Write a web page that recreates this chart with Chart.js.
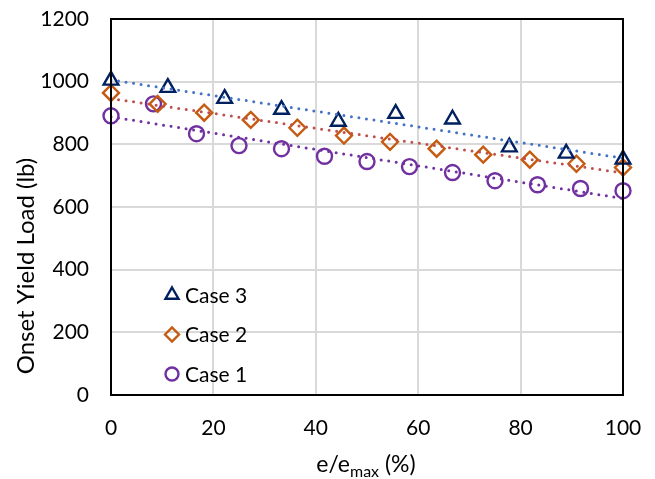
<!DOCTYPE html>
<html>
<head>
<meta charset="utf-8">
<script src="https://cdn.jsdelivr.net/npm/chart.js@4/dist/chart.umd.min.js"></script>
<style>
  html, body { margin: 0; padding: 0; background: #fff; }
  #wrap { width: 655px; height: 479px; }
</style>
</head>
<body>
<div id="wrap"><canvas id="chart" width="655" height="479"></canvas></div>
<script>
// values
const case3X = [0, 11.1, 22.2, 33.3, 44.4, 55.6, 66.7, 77.8, 88.9, 100];
const case3Y = [1004, 981, 946, 911, 873, 898, 880, 791, 771, 752];

const case2X = [0, 9.1, 18.2, 27.3, 36.4, 45.5, 54.5, 63.6, 72.7, 81.8, 90.9, 100];
const case2Y = [964, 929, 901, 878, 853, 828, 808, 786, 767, 751, 738, 726];

const case1X = [0, 8.3, 16.7, 25, 33.3, 41.7, 50, 58.3, 66.7, 75, 83.3, 91.7, 100];
const case1Y = [891, 929, 834, 796, 786, 762, 745, 729, 710, 684, 671, 659, 652];

const xTicks = [0, 20, 40, 60, 80, 100];
const yTicks = [0, 200, 400, 600, 800, 1000, 1200];

const FONT = 'Lato';
const FS = 21;

function toPoints(xs, ys) {
    return xs.map((x, i) => ({ x: x, y: ys[i] }));
}

// linear least-squares trendline, like the spreadsheet one
function trend(xs, ys) {
    const n = xs.length;
    const mx = xs.reduce((a, b) => a + b, 0) / n;
    const my = ys.reduce((a, b) => a + b, 0) / n;
    let sxy = 0, sxx = 0;
    for (let i = 0; i < n; i++) {
        sxy += (xs[i] - mx) * (ys[i] - my);
        sxx += (xs[i] - mx) * (xs[i] - mx);
    }
    const b = sxy / sxx;
    const a = my - b * mx;
    const x0 = Math.min(...xs), x1 = Math.max(...xs);
    return [{ x: x0, y: a + b * x0 }, { x: x1, y: a + b * x1 }];
}

function trendSet(xs, ys, color) {
    return {
        type: 'line',
        data: trend(xs, ys),
        borderColor: color,
        borderWidth: 3,
        borderDash: [0, 7.6],
        borderCapStyle: 'round',
        pointRadius: 0,
        fill: false,
        order: 0
    };
}

const series = [
    { label: 'Case 3', xs: case3X, ys: case3Y, marker: 'triangle', radius: 8.5, color: '#002060', line: '#4472C4' },
    { label: 'Case 2', xs: case2X, ys: case2Y, marker: 'rectRot', radius: 8, color: '#C55A11', line: '#C0504D' },
    { label: 'Case 1', xs: case1X, ys: case1Y, marker: 'circle', radius: 7.5, color: '#7030A0', line: '#7030A0' }
];

const datasets = [];
series.forEach(s => {
    datasets.push({
        label: s.label,
        data: toPoints(s.xs, s.ys),
        pointStyle: s.marker,
        pointRadius: s.radius,
        pointBorderWidth: 2.4,
        pointBorderColor: s.color,
        pointBackgroundColor: 'rgba(255,255,255,0)',
        showLine: false,
        clip: 12,
        order: 1
    });
    datasets.push(trendSet(s.xs, s.ys, s.line));
});

// frame, legend inside the plot, axis titles (x one has a subscript)
const extras = {
    id: 'extras',
    afterDraw(chart) {
        const ctx = chart.ctx;
        const a = chart.chartArea;
        ctx.save();
        ctx.strokeStyle = '#000';
        ctx.lineWidth = 2;
        ctx.strokeRect(a.left, a.top, a.right - a.left, a.bottom - a.top);

        // legend
        ctx.font = FS + 'px ' + FONT;
        ctx.textBaseline = 'middle';
        ctx.textAlign = 'left';
        series.forEach((s, i) => {
            const y = a.bottom - 100 + i * 39.5;
            const x = a.left + 61;
            ctx.strokeStyle = s.color;
            ctx.fillStyle = 'rgba(255,255,255,0)';
            ctx.lineWidth = 2.4;
            Chart.helpers.drawPoint(ctx, { pointStyle: s.marker, radius: s.radius - 1, rotation: 0, borderWidth: 2.4 }, x, y);
            ctx.fillStyle = '#000';
            ctx.fillText(s.label, x + 13, y + 1);
        });

        // y title
        ctx.save();
        ctx.translate(26, 266);
        ctx.rotate(-Math.PI / 2);
        ctx.font = '24px ' + FONT;
        ctx.textAlign = 'center';
        ctx.fillStyle = '#000';
        ctx.fillText('Onset Yield Load (lb)', 0, 0);
        ctx.restore();

        // x title: e/e_max (%)
        const cx = 366;
        const ty = 465;
        const big = '23px ' + FONT;
        const small = '16px ' + FONT;
        ctx.font = big;
        const w1 = ctx.measureText('e/e').width;
        const w3 = ctx.measureText(' (%)').width;
        ctx.font = small;
        const w2 = ctx.measureText('max').width;
        let x = cx - (w1 + w2 + w3) / 2;
        ctx.fillStyle = '#000';
        ctx.font = big;
        ctx.fillText('e/e', x, ty);
        x += w1;
        ctx.font = small;
        ctx.fillText('max', x, ty + 7);
        x += w2;
        ctx.font = big;
        ctx.fillText(' (%)', x, ty);
        ctx.restore();
    }
};

Chart.defaults.font.family = FONT;
Chart.defaults.font.size = FS;
Chart.defaults.color = '#000';

new Chart(document.getElementById('chart').getContext('2d'), {
    type: 'scatter',
    data: { datasets: datasets },
    options: {
        responsive: false,
        animation: false,
        layout: { autoPadding: false, padding: { top: 19, right: 32, left: 0, bottom: 0 } },
        plugins: {
            legend: { display: false },
            tooltip: { enabled: false }
        },
        scales: {
            x: {
                type: 'linear',
                min: 0,
                max: 100,
                afterBuildTicks: axis => { axis.ticks = xTicks.map(v => ({ value: v })); },
                afterFit: axis => { axis.height = 84; axis.paddingLeft = 0; axis.paddingRight = 0; },
                grid: { color: '#d9d9d9', lineWidth: 2, drawTicks: false },
                border: { display: false },
                ticks: { padding: 21, font: { size: FS }, callback: v => String(v) }
            },
            y: {
                type: 'linear',
                min: 0,
                max: 1200,
                afterBuildTicks: axis => { axis.ticks = yTicks.map(v => ({ value: v })); },
                afterFit: axis => { axis.width = 111; axis.paddingTop = 0; axis.paddingBottom = 0; },
                grid: { color: '#d9d9d9', lineWidth: 2, drawTicks: false },
                border: { display: false },
                ticks: { padding: 22, font: { size: FS }, callback: v => String(v) }
            }
        }
    },
    plugins: [extras]
});
</script>
</body>
</html>
